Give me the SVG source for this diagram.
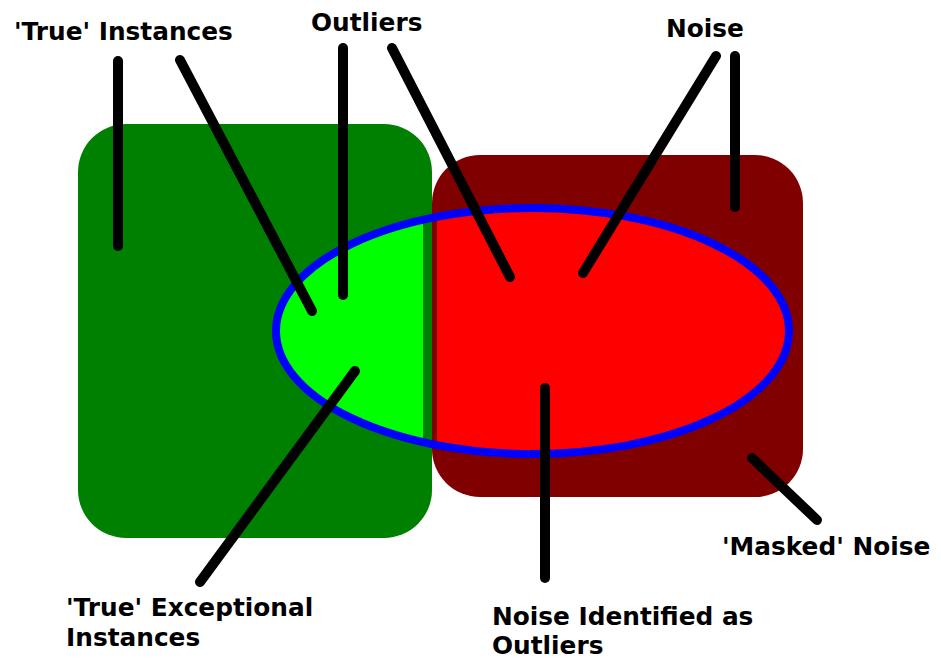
<svg xmlns="http://www.w3.org/2000/svg" width="941" height="661" viewBox="0 0 941 661">
<style>
.lbl{font-family:"DejaVu Sans",sans-serif;font-weight:bold;font-size:24.8px;fill:#000}
.ln{stroke:#000;stroke-width:10;stroke-linecap:round;fill:none}
</style>
<defs>
<clipPath id="cl"><rect x="0" y="0" width="423" height="661"/></clipPath>
<clipPath id="cr"><rect x="437" y="0" width="504" height="661"/></clipPath>
</defs>
<rect width="941" height="661" fill="#fff"/>
<g id="true-instances-set"><rect x="78" y="124" width="354" height="414" rx="48" ry="48" fill="#008000"/></g>
<g id="noise-set"><rect x="432" y="155" width="371" height="342" rx="48" ry="48" fill="#800000"/></g>
<g id="outliers-set">
<ellipse cx="532.5" cy="331" rx="256.5" ry="123" fill="#00ff00" clip-path="url(#cl)"/>
<ellipse cx="532.5" cy="331" rx="256.5" ry="123" fill="#ff0000" clip-path="url(#cr)"/>
<ellipse cx="532.5" cy="331" rx="256.5" ry="123" fill="none" stroke="#0000ff" stroke-width="8"/>
</g>
<g id="connectors">
<line class="ln" x1="118" y1="61" x2="118" y2="246"/>
<line class="ln" x1="180" y1="60" x2="312" y2="311"/>
<line class="ln" x1="343" y1="48" x2="343" y2="295"/>
<line class="ln" x1="392" y1="48" x2="510" y2="277"/>
<line class="ln" x1="716" y1="56" x2="583" y2="273"/>
<line class="ln" x1="735" y1="56" x2="735" y2="207"/>
<line class="ln" x1="355" y1="371" x2="200" y2="582"/>
<line class="ln" x1="545" y1="388" x2="545" y2="578"/>
<line class="ln" x1="752" y1="458" x2="817" y2="520"/>
</g>
<g id="label-true-instances"><text class="lbl" x="14" y="40">'True' Instances</text></g>
<g id="label-outliers"><text class="lbl" x="311" y="31">Outliers</text></g>
<g id="label-noise"><text class="lbl" x="666" y="37">Noise</text></g>
<g id="label-masked-noise"><text class="lbl" x="722" y="555">'Masked' Noise</text></g>
<g id="label-true-exceptional"><text class="lbl" x="66" y="616">'True' Exceptional</text><text class="lbl" x="66" y="646">Instances</text></g>
<g id="label-noise-identified"><text class="lbl" x="492" y="625">Noise Identified as</text><text class="lbl" x="492" y="654">Outliers</text></g>
</svg>
